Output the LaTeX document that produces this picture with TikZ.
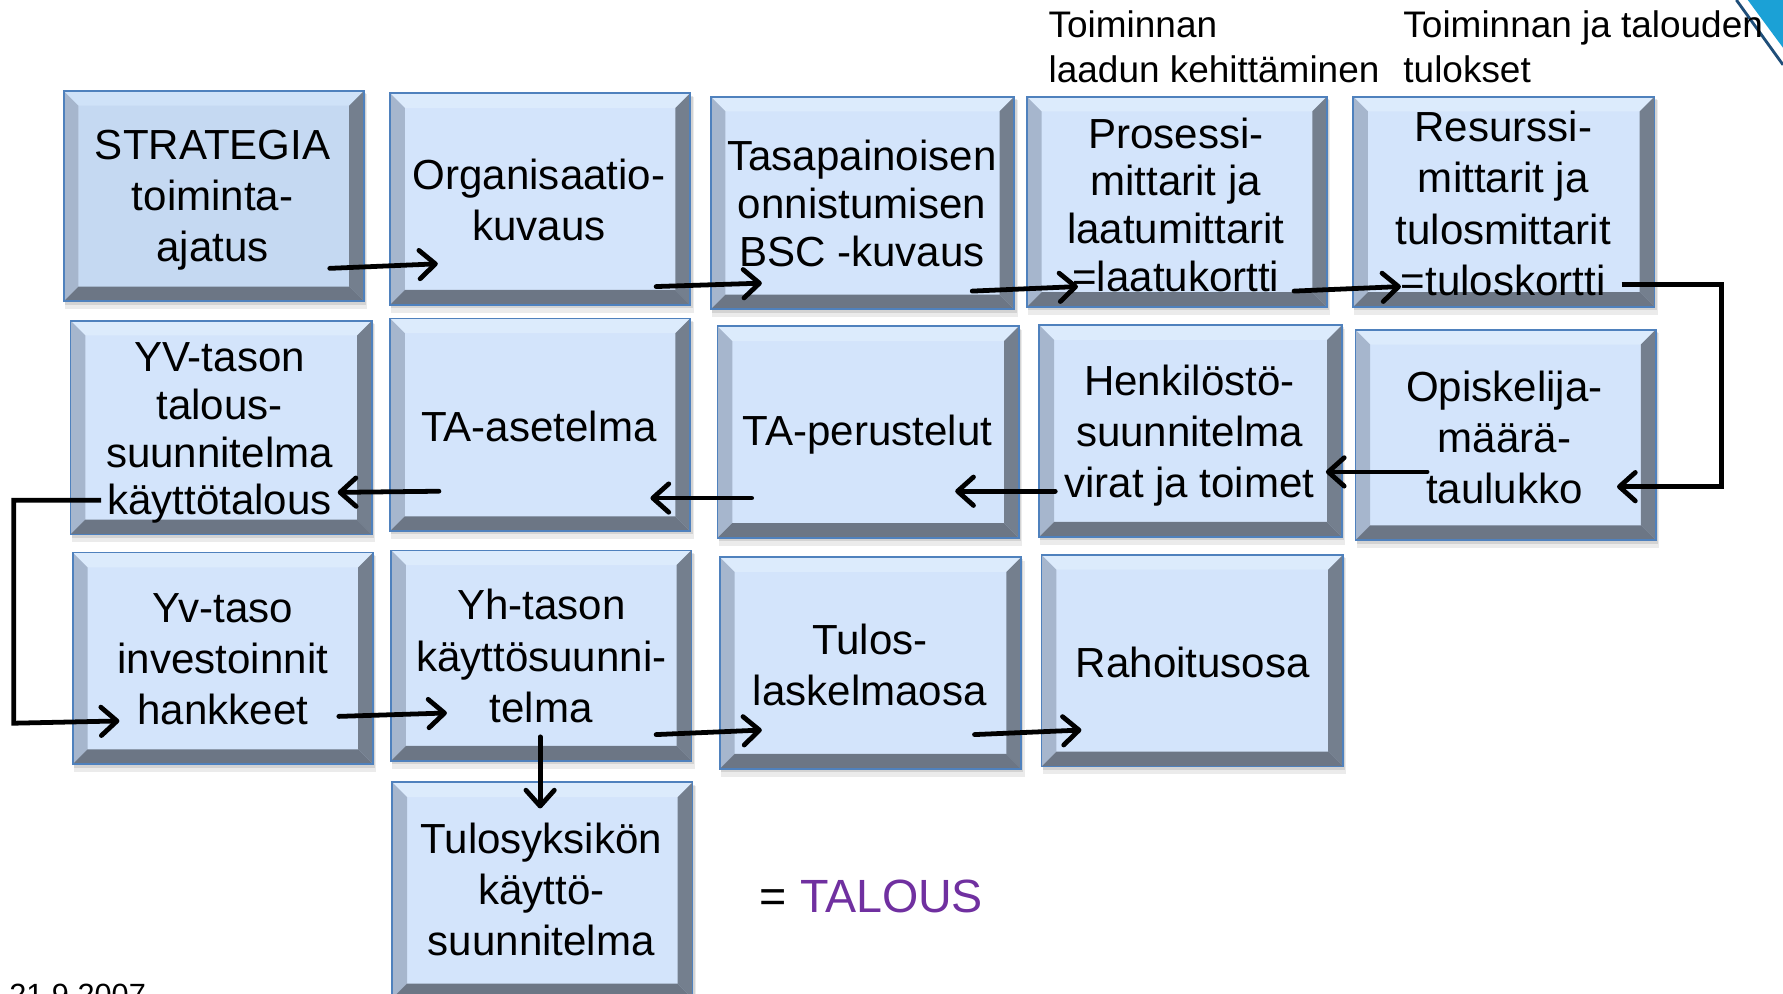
\documentclass[tikz,border=0pt]{standalone}
\usepackage{fontspec}
\setmainfont{Liberation Sans}
\usetikzlibrary{arrows.meta}
\definecolor{bvtop}{RGB}{220,235,252}
\definecolor{bvtopS}{RGB}{207,226,248}
\definecolor{bvleft}{RGB}{166,182,205}
\definecolor{bvright}{RGB}{116,127,142}
\definecolor{bvbot}{RGB}{108,118,133}
\definecolor{face}{RGB}{211,228,251}
\definecolor{faceS}{RGB}{197,217,242}
\definecolor{boxborder}{RGB}{79,129,189}
\definecolor{talous}{RGB}{112,48,160}
\definecolor{cornercyan}{RGB}{27,161,214}
\definecolor{cornerdark}{RGB}{31,78,121}
\tikzset{
  boxtext/.style={align=center, inner sep=0pt, font=\fontsize{37}{45}\selectfont},
  boxtight/.style={align=center, inner sep=0pt, font=\fontsize{37}{42}\selectfont},
  headtext/.style={align=left, inner sep=0pt, anchor=west, font=\fontsize{32.5}{39.5}\selectfont},
  conn/.style={line width=4.2pt, line cap=round, line join=round,
    -{Straight Barb[length=14pt,width=25pt,line cap=round,line join=round]}},
  elbow/.style={line width=4.2pt, line join=miter,
    -{Straight Barb[length=14pt,width=25pt,line cap=round,line join=round]}}
}
\newcommand\bevbox[7]{%
  \fill[black,opacity=0.08] (#2+1,#3+3) rectangle (#4+3,#5+7);
  \fill[black,opacity=0.10] (#2+1,#3+2) rectangle (#4+2,#5+3);
  \fill[#6] (#2,#3) rectangle (#4,#5);
  \fill[#7] (#2,#3) -- (#4,#3) -- (#4-13,#3+13) -- (#2+13,#3+13) -- cycle;
  \fill[bvleft] (#2,#3) -- (#2+13,#3+13) -- (#2+13,#5-13) -- (#2,#5) -- cycle;
  \fill[bvright] (#4,#3) -- (#4,#5) -- (#4-13,#5-13) -- (#4-13,#3+13) -- cycle;
  \fill[bvbot] (#2,#5) -- (#4,#5) -- (#4-13,#5-13) -- (#2+13,#5-13) -- cycle;
  \node[draw=boxborder, line width=1.5pt, inner sep=0pt, outer sep=0pt,
    minimum width={#4-#2}, minimum height={#5-#3}] (#1) at ({(#2+#4)/2},{(#3+#5)/2}) {};
}
\begin{document}
\begin{tikzpicture}[x=1pt,y=-1pt]
\clip (0,0) rectangle (1568,874);
\fill[white] (0,0) rectangle (1568,874);

% corner decoration
\fill[cornercyan] (1537,0) -- (1568,0) -- (1568,42) -- cycle;
\draw[cornerdark, line width=2.5pt] (1527,0) -- (1568,57);

% header texts
\node[headtext] (h1) at (922,41.5) {Toiminnan\\laadun kehittäminen};
\node[headtext] (h2) at (1234,41.5) {Toiminnan ja talouden\\tulokset};

% row 1
\bevbox{strat}{56}{80}{320}{265}{faceS}{bvtopS}
\bevbox{org}{343}{82}{607}{268}{face}{bvtop}
\bevbox{tasa}{625}{85}{892}{272}{face}{bvtop}
\bevbox{pros}{903}{85}{1167}{270}{face}{bvtop}
\bevbox{res}{1190}{85}{1455}{270}{face}{bvtop}
% row 2
\bevbox{yv}{62}{282}{327}{470}{face}{bvtop}
\bevbox{taa}{343}{280}{607}{467}{face}{bvtop}
\bevbox{tap}{631}{287}{896}{473}{face}{bvtop}
\bevbox{henk}{914}{286}{1180}{472}{face}{bvtop}
\bevbox{opis}{1192}{290}{1456}{475}{face}{bvtop}
% row 3
\bevbox{yvi}{64}{486}{328}{672}{face}{bvtop}
\bevbox{yh}{344}{484}{608}{669}{face}{bvtop}
\bevbox{tul}{633}{490}{898}{676}{face}{bvtop}
\bevbox{rah}{916}{488}{1181}{674}{face}{bvtop}
% row 4
\bevbox{tys}{345}{688}{609}{878}{face}{bvtop}

% texts
\node[boxtext] (strat-t) at (187,176) {STRATEGIA\\toiminta-\\ajatus};
\node[boxtext] (org-t) at (474,176) {Organisaatio-\\kuvaus};
\node[boxtight] (tasa-t) at (758,179) {Tasapainoisen\\onnistumisen\\BSC -kuvaus};
\node[boxtight] (pros-t) at (1034,180) {Prosessi-\\mittarit ja\\laatumittarit\\=laatukortti};
\node[boxtext] (res-t) at (1322,179) {Resurssi-\\mittarit ja\\tulosmittarit\\=tuloskortti};
\node[boxtight] (yv-t) at (193,381) {YV-tason\\talous-\\suunnitelma\\käyttötalous};
\node[boxtext] (taa-t) at (474,375) {TA-asetelma};
\node[boxtext] (tap-t) at (763,382) {TA-perustelut};
\node[boxtext] (henk-t) at (1046,383) {Henkilöstö-\\suunnitelma\\virat ja toimet};
\node[boxtext] (opis-t) at (1323,385) {Opiskelija-\\määrä-\\taulukko};
\node[boxtext] (yvi-t) at (196,580) {Yv-taso\\investoinnit\\hankkeet};
\node[boxtext] (yh-t) at (476,577) {Yh-tason\\käyttösuunni-\\telma};
\node[boxtext] (tul-t) at (765,585) {Tulos-\\laskelmaosa};
\node[boxtext] (rah-t) at (1049,583) {Rahoitusosa};
\node[boxtext] (tys-t) at (476,782) {Tulosyksikön\\käyttö-\\suunnitelma};

\node[inner sep=0pt, anchor=west, font=\fontsize{41}{48}\selectfont] (tal) at (668,788) {= \textcolor{talous}{TALOUS}};
\node[inner sep=0pt, anchor=base west, font=\fontsize{27}{32}\selectfont] (date) at (8,884) {21.9.2007};

% connector end points
\coordinate (a1s) at (290,236); \coordinate (a1e) at (385,232);
\coordinate (a2s) at (577,252); \coordinate (a2e) at (670,249);
\coordinate (a3s) at (855,256); \coordinate (a3e) at (948,252);
\coordinate (a4s) at (1138,256); \coordinate (a4e) at (1232,252);
\coordinate (a5s) at (1426,250); \coordinate (a5e) at (1422,428);
\coordinate (a6s) at (1255,415); \coordinate (a6e) at (1166,415);
\coordinate (a7s) at (928,432); \coordinate (a7e) at (840,432);
\coordinate (a8s) at (661,438); \coordinate (a8e) at (572,438);
\coordinate (a9s) at (386,432); \coordinate (a9e) at (297,433);
\coordinate (a10s) at (89,440); \coordinate (a10e) at (105,634);
\coordinate (a11s) at (298,630); \coordinate (a11e) at (393,627);
\coordinate (a12s) at (577,646); \coordinate (a12e) at (670,642);
\coordinate (a13s) at (857,646); \coordinate (a13e) at (951,642);
\coordinate (a14s) at (475,648); \coordinate (a14e) at (475,711);

\draw[conn] (a1s) -- (a1e);
\draw[conn] (a2s) -- (a2e);
\draw[conn] (a3s) -- (a3e);
\draw[conn] (a4s) -- (a4e);
\draw[elbow] (a5s) -- (1514,250) -- (1514,428) -- (a5e);
\draw[conn] (a6s) -- (a6e);
\draw[conn] (a7s) -- (a7e);
\draw[conn] (a8s) -- (a8e);
\draw[conn] (a9s) -- (a9e);
\draw[elbow] (a10s) -- (12,440) -- (12,636) -- (a10e);
\draw[conn] (a11s) -- (a11e);
\draw[conn] (a12s) -- (a12e);
\draw[conn] (a13s) -- (a13e);
\draw[conn] (a14s) -- (a14e);
\end{tikzpicture}
\end{document}
